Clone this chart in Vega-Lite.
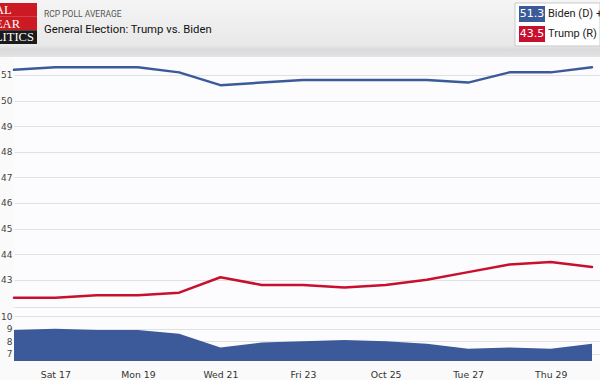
{
  "$schema": "https://vega.github.io/schema/vega-lite/v6.json",
  "background": "#fafafa",
  "padding": 0,
  "spacing": 0,
  "bounds": "full",
  "config": {"view": {"stroke": null}, "font": "Roboto", "concat": {"spacing": 0}},
  "datasets": {
    "polls": [
      {"date": "2020-10-16", "candidate": "Biden (D)", "value": 51.2},
      {"date": "2020-10-17", "candidate": "Biden (D)", "value": 51.3},
      {"date": "2020-10-18", "candidate": "Biden (D)", "value": 51.3},
      {"date": "2020-10-19", "candidate": "Biden (D)", "value": 51.3},
      {"date": "2020-10-20", "candidate": "Biden (D)", "value": 51.1},
      {"date": "2020-10-21", "candidate": "Biden (D)", "value": 50.6},
      {"date": "2020-10-22", "candidate": "Biden (D)", "value": 50.7},
      {"date": "2020-10-23", "candidate": "Biden (D)", "value": 50.8},
      {"date": "2020-10-24", "candidate": "Biden (D)", "value": 50.8},
      {"date": "2020-10-25", "candidate": "Biden (D)", "value": 50.8},
      {"date": "2020-10-26", "candidate": "Biden (D)", "value": 50.8},
      {"date": "2020-10-27", "candidate": "Biden (D)", "value": 50.7},
      {"date": "2020-10-28", "candidate": "Biden (D)", "value": 51.1},
      {"date": "2020-10-29", "candidate": "Biden (D)", "value": 51.1},
      {"date": "2020-10-30", "candidate": "Biden (D)", "value": 51.3},
      {"date": "2020-10-16", "candidate": "Trump (R)", "value": 42.3},
      {"date": "2020-10-17", "candidate": "Trump (R)", "value": 42.3},
      {"date": "2020-10-18", "candidate": "Trump (R)", "value": 42.4},
      {"date": "2020-10-19", "candidate": "Trump (R)", "value": 42.4},
      {"date": "2020-10-20", "candidate": "Trump (R)", "value": 42.5},
      {"date": "2020-10-21", "candidate": "Trump (R)", "value": 43.1},
      {"date": "2020-10-22", "candidate": "Trump (R)", "value": 42.8},
      {"date": "2020-10-23", "candidate": "Trump (R)", "value": 42.8},
      {"date": "2020-10-24", "candidate": "Trump (R)", "value": 42.7},
      {"date": "2020-10-25", "candidate": "Trump (R)", "value": 42.8},
      {"date": "2020-10-26", "candidate": "Trump (R)", "value": 43.0},
      {"date": "2020-10-27", "candidate": "Trump (R)", "value": 43.3},
      {"date": "2020-10-28", "candidate": "Trump (R)", "value": 43.6},
      {"date": "2020-10-29", "candidate": "Trump (R)", "value": 43.7},
      {"date": "2020-10-30", "candidate": "Trump (R)", "value": 43.5}
    ],
    "spread": [
      {"date": "2020-10-16", "spread": 8.9},
      {"date": "2020-10-17", "spread": 9.0},
      {"date": "2020-10-18", "spread": 8.9},
      {"date": "2020-10-19", "spread": 8.9},
      {"date": "2020-10-20", "spread": 8.6},
      {"date": "2020-10-21", "spread": 7.5},
      {"date": "2020-10-22", "spread": 7.9},
      {"date": "2020-10-23", "spread": 8.0},
      {"date": "2020-10-24", "spread": 8.1},
      {"date": "2020-10-25", "spread": 8.0},
      {"date": "2020-10-26", "spread": 7.8},
      {"date": "2020-10-27", "spread": 7.4},
      {"date": "2020-10-28", "spread": 7.5},
      {"date": "2020-10-29", "spread": 7.4},
      {"date": "2020-10-30", "spread": 7.8}
    ],
    "latest": [
      {"candidate": "Biden (D)", "value": 51.3, "label": "Biden (D) +7.8"},
      {"candidate": "Trump (R)", "value": 43.5, "label": "Trump (R)"}
    ],
    "logo": [
      {"line": "REAL"},
      {"line": "CLEAR"},
      {"line": "POLITICS"}
    ]
  },
  "vconcat": [
    {
      "hconcat": [
        {
          "width": 37,
          "height": 57,
          "view": {"fill": {"gradient": "linear", "x1": 0, "y1": 0, "x2": 0, "y2": 1, "stops": [{"offset": 0, "color": "#f5f5f5"}, {"offset": 0.8, "color": "#e8e8e8"}, {"offset": 0.87, "color": "#dadada"}, {"offset": 1, "color": "#e4e4e4"}]}, "stroke": null},
          "data": {"name": "logo"},
          "encoding": {
            "y": {"field": "line", "type": "nominal", "sort": null,
                  "scale": {"type": "band", "domain": ["REAL", "CLEAR", "POLITICS"], "paddingInner": 0, "paddingOuter": 0.585, "align": 0.1875},
                  "axis": null}
          },
          "layer": [
            {"mark": {"type": "rect"},
             "encoding": {"fill": {"field": "line", "type": "nominal",
                                    "scale": {"domain": ["REAL", "CLEAR", "POLITICS"], "range": ["#cc1a24", "#cc1a24", "#1a1a1a"]},
                                    "legend": null}}},
            {"mark": {"type": "text", "font": "Liberation Serif", "fontSize": 12.5, "color": "white", "align": "left", "dx": -39.5, "clip": true},
             "encoding": {"text": {"field": "line"}}}
          ]
        },
        {
          "width": 478,
          "height": 57,
          "view": {"fill": {"gradient": "linear", "x1": 0, "y1": 0, "x2": 0, "y2": 1, "stops": [{"offset": 0, "color": "#f5f5f5"}, {"offset": 0.8, "color": "#e8e8e8"}, {"offset": 0.87, "color": "#dadada"}, {"offset": 1, "color": "#e4e4e4"}]}, "stroke": null},
          "data": {"values": []},
          "mark": "point",
          "title": {
            "text": "RCP POLL AVERAGE",
            "subtitle": "General Election: Trump vs. Biden",
            "anchor": "start", "frame": "group", "orient": "top",
            "offset": -35, "dx": 7,
            "font": "Roboto", "fontSize": 8.5, "fontWeight": "normal", "color": "#555555",
            "subtitleFont": "Roboto", "subtitleFontSize": 11.3, "subtitleColor": "#111111", "subtitlePadding": 5
          }
        },
        {
          "width": 85,
          "height": 57,
          "view": {"fill": {"gradient": "linear", "x1": 0, "y1": 0, "x2": 0, "y2": 1, "stops": [{"offset": 0, "color": "#f5f5f5"}, {"offset": 0.8, "color": "#e8e8e8"}, {"offset": 0.87, "color": "#dadada"}, {"offset": 1, "color": "#e4e4e4"}]}, "stroke": null},
          "data": {"name": "latest"},
          "layer": [
            {
              "transform": [{"aggregate": [{"op": "count", "as": "n"}]}],
              "mark": {"type": "rect", "fill": "white", "stroke": "#c9c9c9", "strokeWidth": 1},
              "encoding": {
                "y": {"datum": "legend", "type": "nominal",
                      "scale": {"type": "band", "domain": ["legend"], "paddingInner": 0, "paddingOuter": 0.1628, "align": 0.214},
                      "axis": null}
              }
            },
            {
              "mark": {"type": "rect"},
              "encoding": {
                "y": {"field": "candidate", "type": "nominal",
                      "scale": {"type": "band", "domain": ["Biden (D)", "Trump (R)"], "paddingInner": 0.2, "paddingOuter": 0.525, "align": 0.2857},
                      "axis": null},
                "x": {"datum": "box", "type": "nominal",
                      "scale": {"type": "band", "domain": ["box", "name"], "paddingInner": 0.1034, "paddingOuter": 0.517, "align": 0.133},
                      "axis": null},
                "color": {"field": "candidate", "type": "nominal",
                          "scale": {"domain": ["Biden (D)", "Trump (R)"], "range": ["#3c5a99", "#c8102e"]},
                          "legend": null}
              }
            },
            {
              "mark": {"type": "text", "color": "white", "fontSize": 11, "font": "DejaVu Sans"},
              "encoding": {
                "y": {"field": "candidate", "type": "nominal",
                      "scale": {"type": "band", "domain": ["Biden (D)", "Trump (R)"], "paddingInner": 0.2, "paddingOuter": 0.525, "align": 0.2857},
                      "axis": null},
                "x": {"datum": "box", "type": "nominal",
                      "scale": {"type": "band", "domain": ["box", "name"], "paddingInner": 0.1034, "paddingOuter": 0.517, "align": 0.133},
                      "axis": null},
                "text": {"field": "value", "type": "quantitative", "format": ".1f"}
              }
            },
            {
              "mark": {"type": "text", "align": "left", "fontSize": 11, "font": "Roboto", "color": "#222222", "clip": true},
              "encoding": {
                "y": {"field": "candidate", "type": "nominal",
                      "scale": {"type": "band", "domain": ["Biden (D)", "Trump (R)"], "paddingInner": 0.2, "paddingOuter": 0.525, "align": 0.2857},
                      "axis": null},
                "x": {"datum": "name", "type": "nominal", "bandPosition": 0,
                      "scale": {"type": "band", "domain": ["box", "name"], "paddingInner": 0.1034, "paddingOuter": 0.517, "align": 0.133},
                      "axis": null},
                "text": {"field": "label"}
              }
            }
          ],
          "resolve": {"scale": {"x": "independent", "y": "independent"}}
        }
      ],
      "spacing": 0,
      "bounds": "flush"
    },
    {
      "hconcat": [
        {
          "width": 14,
          "height": 304,
          "data": {"values": []},
          "mark": "point",
          "view": {"stroke": null}
        },
        {
          "vconcat": [
            {
              "width": 586,
              "height": 251,
              "view": {"fill": "#fcfcfe", "stroke": null},
              "data": {"name": "polls"},
              "mark": {"type": "line", "strokeWidth": 2.5, "strokeJoin": "round", "strokeCap": "round"},
              "encoding": {
                "x": {"field": "date", "type": "temporal",
                      "scale": {"type": "utc", "domain": [{"year": 2020, "month": 10, "date": 16, "utc": true}, {"year": 2020, "month": 10, "date": 30, "hours": 4, "minutes": 39, "utc": true}]},
                      "axis": {"title": null, "labels": false, "ticks": false, "grid": false, "domain": true, "domainColor": "#8c8c8c", "domainWidth": 1.5}},
                "y": {"field": "value", "type": "quantitative",
                      "scale": {"domain": [41.9, 51.7], "nice": false, "zero": false},
                      "axis": {"title": null, "values": [43, 44, 45, 46, 47, 48, 49, 50, 51], "grid": true, "gridColor": "#e1e1e1", "domain": false, "ticks": false, "tickSize": 0, "labelPadding": 2, "labelFont": "DejaVu Sans", "labelFontSize": 9, "labelColor": "#444444"}},
                "color": {"field": "candidate", "type": "nominal",
                          "scale": {"domain": ["Biden (D)", "Trump (R)"], "range": ["#3c5a99", "#c8102e"]},
                          "legend": null}
              }
            },
            {
              "width": 586,
              "height": 53,
              "view": {"fill": "#fcfcfe", "stroke": null},
              "data": {"name": "spread"},
              "mark": {"type": "area", "color": "#3c5a99", "opacity": 1, "clip": true},
              "encoding": {
                "x": {"field": "date", "type": "temporal",
                      "scale": {"type": "utc", "domain": [{"year": 2020, "month": 10, "date": 16, "utc": true}, {"year": 2020, "month": 10, "date": 30, "hours": 4, "minutes": 39, "utc": true}]},
                      "axis": {"title": null, "values": [
                        {"year": 2020, "month": 10, "date": 17, "utc": true},
                        {"year": 2020, "month": 10, "date": 19, "utc": true},
                        {"year": 2020, "month": 10, "date": 21, "utc": true},
                        {"year": 2020, "month": 10, "date": 23, "utc": true},
                        {"year": 2020, "month": 10, "date": 25, "utc": true},
                        {"year": 2020, "month": 10, "date": 27, "utc": true},
                        {"year": 2020, "month": 10, "date": 29, "utc": true}],
                        "labelExpr": "utcday(datum.value) == 0 ? utcFormat(datum.value, '%b %d') : utcFormat(datum.value, '%a %d')",
                        "ticks": false, "tickSize": 0, "domain": false, "grid": false, "labelPadding": 9, "labelFont": "DejaVu Sans", "labelFontSize": 9.3, "labelColor": "#333333", "labelFlush": false}},
                "y": {"field": "spread", "type": "quantitative",
                      "scale": {"domain": [6.42, 10.66], "nice": false, "zero": false},
                      "axis": {"title": null, "values": [7, 8, 9, 10], "grid": true, "gridColor": "#e1e1e1", "domain": false, "ticks": false, "tickSize": 0, "labelPadding": 2, "labelFont": "DejaVu Sans", "labelFontSize": 9, "labelColor": "#444444"}}
              }
            }
          ],
          "spacing": 0,
          "bounds": "flush"
        }
      ],
      "spacing": 0,
      "bounds": "flush"
    }
  ]
}
